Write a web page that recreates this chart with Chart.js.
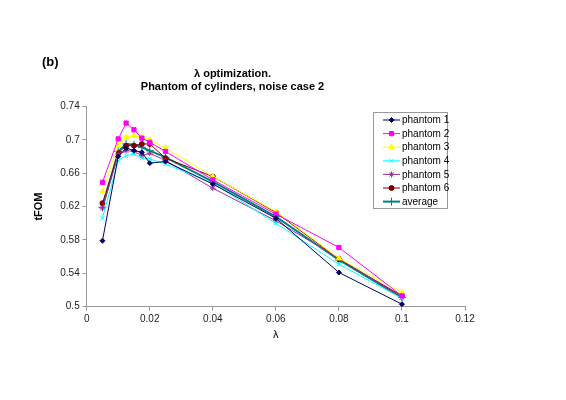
<!DOCTYPE html>
<html>
<head>
<meta charset="utf-8">
<script src="https://cdn.jsdelivr.net/npm/chart.js@4/dist/chart.umd.min.js"></script>
<style>
  html, body { margin: 0; padding: 0; background: #fff; }
  #wrap { width: 566px; height: 400px; }
</style>
</head>
<body>
<div id="wrap"><canvas id="lambdaChart" width="566" height="400"></canvas></div>
<script>
// lambda values (x) and tFOM per phantom
const lambdas = [0.005, 0.01, 0.0125, 0.015, 0.0175, 0.02, 0.025, 0.04, 0.06, 0.08, 0.1];
const phantom1 = [0.579, 0.680, 0.690, 0.687, 0.685, 0.672, 0.674, 0.647, 0.606, 0.541, 0.503];
const phantom2 = [0.649, 0.701, 0.720, 0.712, 0.702, 0.697, 0.686, 0.652, 0.611, 0.571, 0.513];
const phantom3 = [0.638, 0.694, 0.703, 0.705, 0.703, 0.700, 0.690, 0.656, 0.614, 0.558, 0.517];
const phantom4 = [0.606, 0.675, 0.681, 0.683, 0.678, 0.677, 0.671, 0.648, 0.600, 0.551, 0.510];
const phantom5 = [0.618, 0.682, 0.687, 0.686, 0.681, 0.684, 0.675, 0.642, 0.603, 0.558, 0.511];
const phantom6 = [0.624, 0.684, 0.693, 0.693, 0.695, 0.695, 0.678, 0.656, 0.613, 0.557, 0.513];
const average  = [0.619, 0.686, 0.695, 0.694, 0.691, 0.687, 0.679, 0.650, 0.608, 0.556, 0.511];
const seriesNames = ["phantom 1", "phantom 2", "phantom 3", "phantom 4", "phantom 5", "phantom 6", "average"];
const xTicks = [0, 0.02, 0.04, 0.06, 0.08, 0.1, 0.12];
const yTicks = [0.5, 0.54, 0.58, 0.62, 0.66, 0.7, 0.74];

const FONT = "'Liberation Sans', Arial, sans-serif";
Chart.defaults.font.family = FONT;
Chart.defaults.color = "#222";

const styles = [
  { color: "#000066", point: "rectRot", r: 2.5, w: 1 },
  { color: "#ff00ff", point: "rect", r: 3, w: 1 },
  { color: "#ffff00", point: "triangle", r: 3.2, w: 1 },
  { color: "#00ffff", point: "crossRot", r: 3, w: 1 },
  { color: "#993399", point: "star", r: 3, w: 1 },
  { color: "#800000", point: "circle", r: 2.5, w: 1 },
  { color: "#008080", point: "cross", r: 4, w: 2 }
];

const allSeries = [phantom1, phantom2, phantom3, phantom4, phantom5, phantom6, average];

const datasets = allSeries.map((vals, i) => ({
  label: seriesNames[i],
  data: lambdas.map((x, j) => ({ x: x, y: vals[j] })),
  borderColor: styles[i].color,
  backgroundColor: styles[i].color,
  borderWidth: styles[i].w,
  pointStyle: styles[i].point,
  pointRadius: styles[i].r,
  pointBorderWidth: 1,
  pointBorderColor: styles[i].color,
  tension: 0
}));

// legend box and "(b)" label
const extras = {
  id: "extras",
  afterDraw(chart) {
    const ctx = chart.ctx;
    ctx.save();
    ctx.font = "bold 13px " + FONT;
    ctx.fillStyle = "#000";
    ctx.textBaseline = "middle";
    ctx.fillText("(b)", 42, 62);

    const bx = 373, by = 112, bw = 74, bh = 96;
    ctx.fillStyle = "#fff";
    ctx.fillRect(bx, by, bw, bh);
    ctx.strokeStyle = "#999";
    ctx.lineWidth = 1;
    ctx.strokeRect(bx + 0.5, by + 0.5, bw, bh);

    ctx.font = "10px " + FONT;
    chart.data.datasets.forEach((ds, i) => {
      const y = by + 8 + i * 13.6;
      ctx.strokeStyle = ds.borderColor;
      ctx.fillStyle = ds.borderColor;
      ctx.lineWidth = ds.borderWidth;
      ctx.beginPath();
      ctx.moveTo(383, y);
      ctx.lineTo(400, y);
      ctx.stroke();
      ctx.lineWidth = 1;
      Chart.helpers.drawPoint(ctx, {
        pointStyle: ds.pointStyle, radius: ds.pointRadius, borderWidth: 1, rotation: 0
      }, 391.5, y);
      ctx.fillStyle = "#000";
      ctx.fillText(ds.label, 402, y + 0.5);
    });
    ctx.restore();
  }
};

new Chart(document.getElementById("lambdaChart"), {
  type: "line",
  data: { datasets: datasets },
  plugins: [extras],
  options: {
    responsive: false,
    animation: false,
    layout: { padding: { left: 0, right: 101, top: 0, bottom: 58 } },
    plugins: {
      legend: { display: false },
      tooltip: { enabled: false },
      title: {
        display: true,
        text: ["\u03bb optimization.", "Phantom of cylinders, noise case 2"],
        font: { size: 11, weight: "bold" },
        color: "#000",
        lineHeight: 1.2,
        padding: { top: 67, bottom: 13 }
      }
    },
    scales: {
      x: {
        type: "linear",
        min: 0,
        max: 0.12,
        afterBuildTicks: s => { s.ticks = xTicks.map(v => ({ value: v })); },
        afterFit: s => { s.height = 35.3; },
        ticks: { font: { size: 10 }, padding: 3, maxRotation: 0, callback: v => String(+v.toFixed(2)) },
        grid: { drawOnChartArea: false, drawTicks: true, tickLength: 4, color: "#999" },
        border: { color: "#999" },
        title: { display: true, text: "\u03bb", font: { size: 11 }, color: "#000", padding: { top: 0, bottom: 0 } }
      },
      y: {
        min: 0.5,
        max: 0.74,
        afterBuildTicks: s => { s.ticks = yTicks.map(v => ({ value: v })); },
        afterFit: s => { s.width = 86.7; },
        ticks: { font: { size: 10 }, padding: 3, callback: v => String(+v.toFixed(2)) },
        grid: { drawOnChartArea: false, drawTicks: true, tickLength: 4, color: "#999" },
        border: { color: "#999" },
        title: { display: true, text: "tFOM", font: { size: 11, weight: "bold" }, color: "#000", padding: { top: 32, bottom: 0 } }
      }
    }
  }
});
</script>
</body>
</html>
